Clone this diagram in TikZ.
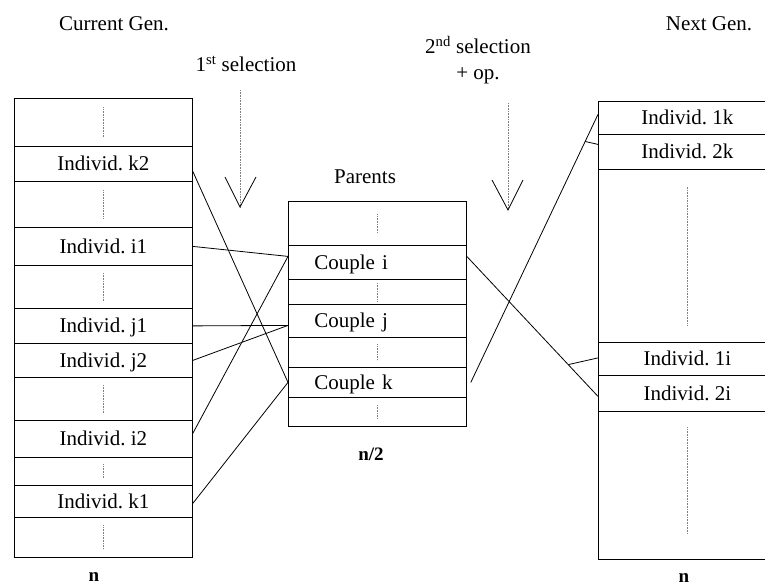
\documentclass[tikz,border=0pt]{standalone}
\usepackage{fontspec}
\setmainfont{Liberation Serif}
\usetikzlibrary{calc}
\begin{document}
\frenchspacing
\begin{tikzpicture}[x=1pt,y=-1pt,line width=0.8pt,
  cell/.style={draw, rectangle, inner sep=0pt, anchor=north west, minimum width=178pt,
    font=\fontsize{21}{24}\selectfont, text height=14pt, text depth=0pt},
  cpl/.style={cell, text width=126pt, align=left, inner xsep=26pt},
  dots/.style={draw=gray, densely dotted, line width=0.6pt},
  link/.style={draw=black, line width=0.8pt},
  vhead/.style={draw=black, line width=0.8pt},
  lbl/.style={font=\fontsize{21}{26}\selectfont, inner sep=0pt},
  blbl/.style={font=\fontsize{19}{22}\selectfont\bfseries, inner sep=0pt}]
\useasboundingbox (0,0) rectangle (765,588);

% ---- headers
\node[lbl] (curgen) at (114,24) {Current Gen.};
\node[lbl] (nextgen) at (709,24) {Next Gen.};
\node[lbl] (sel1) at (246,64) {1\textsuperscript{st} selection};
\node[lbl, align=center] (sel2) at (478,60) {2\textsuperscript{nd} selection\\+ op.};
\node[lbl] (parents) at (365,177) {Parents};

% ---- left column (current generation)
\node[cell, minimum height=48pt] (L0) at (14,98) {};
\node[cell, minimum height=35pt] (L1) at (14,146) {Individ. k2};
\node[cell, minimum height=46pt] (L2) at (14,181) {};
\node[cell, minimum height=38pt] (L3) at (14,227) {Individ. i1};
\node[cell, minimum height=43pt] (L4) at (14,265) {};
\node[cell, minimum height=35pt] (L5) at (14,308) {Individ. j1};
\node[cell, minimum height=34pt] (L6) at (14,343) {Individ. j2};
\node[cell, minimum height=43pt] (L7) at (14,377) {};
\node[cell, minimum height=37pt] (L8) at (14,420) {Individ. i2};
\node[cell, minimum height=28pt] (L9) at (14,457) {};
\node[cell, minimum height=32pt] (L10) at (14,485) {Individ. k1};
\node[cell, minimum height=40pt] (L11) at (14,517) {};
\foreach \c/\h in {L0/15,L2/14,L4/14,L7/14,L9/7,L11/12}
  \draw[dots] ([yshift=\h pt]\c.center) -- ([yshift=-\h pt]\c.center);
\node[blbl] (nleft) at (94,577) {n};

% ---- middle column (parents)
\node[cell, minimum height=44pt] (M0) at (288,201) {};
\node[cpl, minimum height=34pt] (M1) at (288,245) {Couple i};
\node[cell, minimum height=25pt] (M2) at (288,279) {};
\node[cpl, minimum height=33pt] (M3) at (288,304) {Couple j};
\node[cell, minimum height=30pt] (M4) at (288,337) {};
\node[cpl, minimum height=30pt] (M5) at (288,367) {Couple k};
\node[cell, minimum height=29pt] (M6) at (288,397) {};
\foreach \c/\h in {M0/9,M2/9,M4/8,M6/7}
  \draw[dots] ([yshift=\h pt]\c.center) -- ([yshift=-\h pt]\c.center);
\node[blbl] (nhalf) at (371,454) {n/2};

% ---- right column (next generation)
\node[cell, minimum height=33pt] (R0) at (598,101) {Individ. 1k};
\node[cell, minimum height=35pt] (R1) at (598,134) {Individ. 2k};
\node[cell, minimum height=173pt] (R2) at (598,169) {};
\node[cell, minimum height=33pt] (R3) at (598,342) {Individ. 1i};
\node[cell, minimum height=36pt] (R4) at (598,375) {Individ. 2i};
\node[cell, minimum height=148pt] (R5) at (598,411) {};
\draw[dots] ([yshift=69pt]R2.center) -- ([yshift=-69pt]R2.center);
\draw[dots] ([yshift=58pt]R5.center) -- ([yshift=-48pt]R5.center);
\node[blbl] (nright) at (684,578) {n};

% ---- selection arrows
\coordinate (a1top) at (240,90);
\coordinate (a1tip) at (240,207);
\coordinate (a1l) at (225,177);
\coordinate (a1r) at (256,177);
\draw[dots] (a1top) -- (a1tip);
\draw[vhead] (a1l) -- (a1tip) -- (a1r);
\coordinate (a2top) at (508,103);
\coordinate (a2tip) at (508,210);
\coordinate (a2l) at (492,180);
\coordinate (a2r) at (523,180);
\draw[dots] (a2top) -- (a2tip);
\draw[vhead] (a2l) -- (a2tip) -- (a2r);

% ---- connectors: current generation -> parents
\coordinate (ciw) at ([yshift=6pt]M1.west);
\coordinate (cjw) at ([yshift=-4.5pt]M3.west);
\coordinate (ckw) at (M5.west);
\draw[link] ([yshift=-7.5pt]L1.east) -- (ckw);
\draw[link] (L3.east) -- (ciw);
\draw[link] (L5.east) -- (cjw);
\draw[link] (L6.east) -- (cjw);
\draw[link] (ciw) -- ([yshift=5.5pt]L8.east);
\draw[link] (ckw) -- ([yshift=-2pt]L10.east);

% ---- connectors: parents -> next generation
\coordinate (cie) at ([yshift=6pt]M1.east);
\coordinate (i2w) at ([yshift=-3pt]R4.west);
\coordinate (cke) at ([xshift=4pt]M5.east);
\coordinate (k1w) at ([yshift=3.5pt]R0.west);
\draw[link] (cie) -- (i2w);
\coordinate (bi) at ($(cie)!0.773!(i2w)$);
\draw[link] (bi) -- ([yshift=1pt]R3.west);
\draw[link] (cke) -- (k1w);
\coordinate (bk) at ($(cke)!0.899!(k1w)$);
\draw[link] (bk) -- ([yshift=7.5pt]R1.west);
\end{tikzpicture}
\end{document}
